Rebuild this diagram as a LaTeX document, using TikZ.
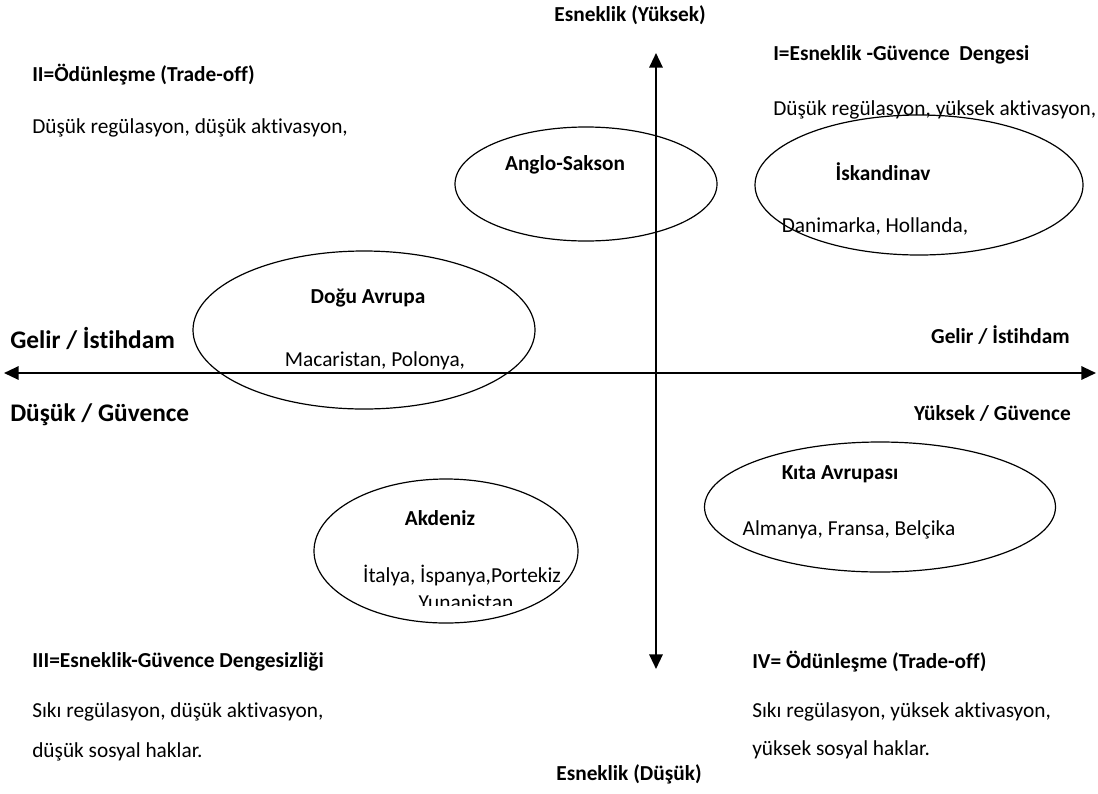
\documentclass[tikz,border=0pt]{standalone}
\usepackage{fontspec}
\setmainfont{Carlito}[Ligatures=NoCommon]
\usetikzlibrary{arrows.meta,shapes.geometric}
\tikzset{
  axis/.style={line width=1.6pt, {Triangle[length=11pt,width=10pt]}-{Triangle[length=11pt,width=10pt]}},
  region/.style={ellipse, draw, line width=0.9pt, inner sep=0pt},
  txt/.style={inner sep=0pt, anchor=west, font=\fontsize{16}{19}\selectfont},
  head/.style={txt, font=\fontsize{16}{19}\selectfont\bfseries},
  bighead/.style={txt, font=\fontsize{19}{22}\selectfont\bfseries},
}

\begin{document}
\begin{tikzpicture}[x=0.75pt, y=-0.75pt]
            \useasboundingbox (0,0) rectangle (1098,793);

            % Axis end points
            \coordinate (top) at (656,53);
            \coordinate (bottom) at (656,669);
            \coordinate (left) at (4,373);
            \coordinate (right) at (1096,373);

            % Regions
            \node[region, minimum width=196.5pt, minimum height=85.5pt] (anglo) at (586,184) {};
            \node[region, minimum width=246pt, minimum height=105pt] (iskandinav) at (919,185) {};
            \node[region, minimum width=256.5pt, minimum height=118.5pt] (dogu) at (364,330) {};
            \node[region, minimum width=263.25pt, minimum height=97.5pt] (kita) at (880,507) {};
            \node[region, minimum width=198pt, minimum height=108pt] (akdeniz) at (446,551) {};

            % Axes
            \draw[axis] (bottom) -- (top);
            \draw[axis] (left) -- (right);

            % Axis labels
            \node[head, anchor=center] (esnekyuksek) at (630,15) {Esneklik (Yüksek)};
            \node[head, anchor=center] (esnekdusuk) at (629,774) {Esneklik (Düşük)};
            \node[bighead] (gelirsol) at (10,338) {Gelir / İstihdam};
            \node[bighead] (guvencesol) at (10,415) {Düşük / Güvence};
            \node[head, anchor=east] (gelirsag) at (1070,335) {Gelir / İstihdam};
            \node[head, anchor=east] (guvencesag) at (1071,413) {Yüksek / Güvence};

            % Quadrant II
            \node[head] (q2title) at (32,75) {II=Ödünleşme (Trade-off)};
            \node[txt] (q2text) at (32,128) {Düşük regülasyon, düşük aktivasyon,};

            % Quadrant I
            \node[head] (q1title) at (773,55) {I=Esneklik -Güvence~~Dengesi};
            \node[txt] (q1text) at (773,110) {Düşük regülasyon, yüksek aktivasyon,};

            % Quadrant III
            \node[head] (q3title) at (32,662) {III=Esneklik-Güvence Dengesizliği};
            \node[txt] (q3text) at (32,712) {Sıkı regülasyon, düşük aktivasyon,};
            \node[txt] (q3more) at (32,752) {düşük sosyal haklar.};

            % Quadrant IV
            \node[head] (q4title) at (752,662) {IV= Ödünleşme (Trade-off)};
            \node[txt] (q4text) at (752,712) {Sıkı regülasyon, yüksek aktivasyon,};
            \node[txt] (q4more) at (752,750) {yüksek sosyal haklar.};

            % Region labels
            \node[head, anchor=center] (anglolbl) at (565,165) {Anglo-Sakson};
            \node[head, anchor=center] (iskandinavlbl) at (883,172) {İskandinav};
            \node[txt, anchor=center] (iskandinavtxt) at (875,226) {Danimarka, Hollanda,};
            \node[head, anchor=center] (dogulbl) at (368,298) {Doğu Avrupa};
            \node[txt, anchor=center] (dogutxt) at (375,361) {Macaristan, Polonya,};
            \node[head, anchor=center] (kitalbl) at (840,474) {Kıta Avrupası};
            \node[txt, anchor=center] (kitatxt) at (849,530) {Almanya, Fransa, Belçika};
            \node[head, anchor=center] (akdenizlbl) at (440,518) {Akdeniz};
            \node[txt, anchor=center] (akdeniztxt) at (462,576) {İtalya, İspanya,Portekiz};
            \begin{scope}
              \clip (380,590) rectangle (560,605);
              \node[txt, anchor=center] (yunan) at (466,602) {Yunanistan};
            \end{scope}
\end{tikzpicture}
\end{document}
